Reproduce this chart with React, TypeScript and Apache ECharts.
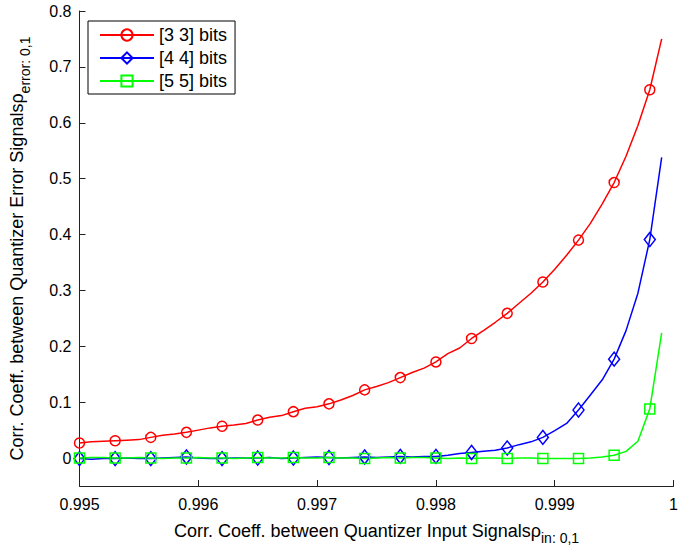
import React, { useEffect, useRef } from "react";
import * as echarts from "echarts";

const xValues: number[] = [
  0.995, 0.9951, 0.9952, 0.9953, 0.9954, 0.9955, 0.9956, 0.9957, 0.9958, 0.9959,
  0.996, 0.9961, 0.9962, 0.9963, 0.9964, 0.9965, 0.9966, 0.9967, 0.9968, 0.9969,
  0.997, 0.9971, 0.9972, 0.9973, 0.9974, 0.9975, 0.9976, 0.9977, 0.9978, 0.9979,
  0.998, 0.9981, 0.9982, 0.9983, 0.9984, 0.9985, 0.9986, 0.9987, 0.9988, 0.9989,
  0.999, 0.9991, 0.9992, 0.9993, 0.9994, 0.9995, 0.9996, 0.9997, 0.9998, 0.9999,
];

const bits33: number[] = [
  0.027, 0.029, 0.030, 0.031, 0.032, 0.033, 0.037, 0.041, 0.043, 0.046,
  0.050, 0.054, 0.057, 0.059, 0.062, 0.068, 0.073, 0.076, 0.083, 0.089,
  0.092, 0.097, 0.104, 0.112, 0.122, 0.128, 0.135, 0.144, 0.153, 0.161,
  0.172, 0.187, 0.197, 0.214, 0.228, 0.243, 0.259, 0.277, 0.295, 0.315,
  0.338, 0.363, 0.390, 0.420, 0.455, 0.493, 0.540, 0.595, 0.659, 0.750,
];

const bits44: number[] = [
  -0.001, -0.002, -0.001, -0.001, 0.000, -0.001, -0.001, 0.000, 0.001, 0.002,
  0.000, -0.001, -0.001, 0.000, 0.000, 0.000, 0.001, -0.001, 0.000, 0.001,
  0.002, 0.001, 0.000, 0.001, 0.002, 0.001, 0.002, 0.003, 0.002, 0.003,
  0.003, 0.005, 0.008, 0.010, 0.012, 0.014, 0.018, 0.024, 0.029, 0.037,
  0.049, 0.062, 0.086, 0.113, 0.140, 0.177, 0.228, 0.295, 0.391, 0.538,
];

const bits55: number[] = [
  0.000, 0.001, 0.001, 0.000, 0.000, 0.001, 0.000, -0.001, 0.000, 0.000,
  0.001, 0.000, 0.000, -0.001, 0.000, 0.001, 0.000, 0.000, 0.001, 0.000,
  0.000, 0.001, 0.000, 0.000, -0.001, 0.000, 0.001, 0.000, 0.001, 0.001,
  0.000, -0.001, 0.000, -0.001, 0.000, 0.000, -0.001, 0.000, 0.000, -0.001,
  -0.001, -0.001, -0.001, 0.000, 0.002, 0.005, 0.012, 0.030, 0.088, 0.224,
];

const seriesNames: string[] = ["[3 3] bits", "[4 4] bits", "[5 5] bits"];
const xTickValues: number[] = [0.995, 0.996, 0.997, 0.998, 0.999, 1];
const yTickValues: number[] = [0, 0.1, 0.2, 0.3, 0.4, 0.5, 0.6, 0.7, 0.8];

const FONT = "'Liberation Sans', Arial, Helvetica, sans-serif";

function buildData(ys: number[]) {
  return xValues.map((x, i) =>
    i % 3 === 0 ? { value: [x, ys[i]] } : { value: [x, ys[i]], symbol: "none" }
  );
}

export default function App() {
  const ref = useRef<HTMLDivElement>(null);

  useEffect(() => {
    if (!ref.current) return;
    const chart = echarts.init(ref.current, undefined, { renderer: "svg" });

    const mk = (name: string, ys: number[], color: string, symbol: string, size: any) => ({
      name,
      type: "line",
      data: buildData(ys),
      symbol,
      symbolSize: size,
      showAllSymbol: true,
      lineStyle: { color, width: 1.5 },
      itemStyle: { color: "rgba(255,255,255,0)", borderColor: color, borderWidth: 1.5 },
      emphasis: { disabled: true },
      z: 2,
    });

    const nameRich = {
      m: { fontSize: 18, fontFamily: FONT, color: "#000", lineHeight: 20 },
      s: { fontSize: 14, fontFamily: FONT, color: "#000", padding: [15, 0, 0, 0] },
    };

    chart.setOption({
      animation: false,
      backgroundColor: "#ffffff",
      textStyle: { fontFamily: FONT },
      grid: { left: 79, right: 1, top: 11, bottom: 60, containLabel: false },
      legend: {
        left: 88,
        top: 21,
        orient: "vertical",
        data: seriesNames,
        backgroundColor: "#ffffff",
        borderColor: "#000000",
        borderWidth: 1,
        padding: [5, 8, 4, 11],
        itemWidth: 54,
        itemHeight: 14,
        itemGap: 5,
        textStyle: { fontSize: 18, lineHeight: 18, color: "#000", fontFamily: FONT },
        selectedMode: false,
      },
      xAxis: {
        type: "value",
        min: 0.995,
        max: 1,
        interval: 0.001,
        name: "{m|Corr. Coeff. between Quantizer Input Signalsρ}{s|in: 0,1}",
        nameLocation: "middle",
        nameGap: 30,
        nameTextStyle: { color: "#000", rich: nameRich },
        axisLine: { show: true, onZero: false, lineStyle: { color: "#222", width: 1 } },
        axisTick: { show: true, inside: true, length: 6, lineStyle: { color: "#222" }, customValues: xTickValues },
        axisLabel: {
          color: "#000",
          fontSize: 16,
          margin: 10,
          customValues: xTickValues,
          formatter: (v: number) => (Math.abs(v - 1) < 1e-9 ? "1" : v.toFixed(3)),
        },
        splitLine: { show: false },
      },
      yAxis: {
        type: "value",
        min: -0.05,
        max: 0.8,
        name: "{m|Corr. Coeff. between Quantizer Error Signalsρ}{s|error: 0,1}",
        nameLocation: "middle",
        nameGap: 48,
        nameTextStyle: { color: "#000", rich: nameRich },
        axisLine: { show: true, onZero: false, lineStyle: { color: "#222", width: 1 } },
        axisTick: { show: true, inside: true, length: 6, lineStyle: { color: "#222" }, customValues: yTickValues },
        axisLabel: {
          color: "#000",
          fontSize: 16,
          margin: 8,
          customValues: yTickValues,
          formatter: (v: number) => (Math.abs(v) < 1e-9 ? "0" : v.toFixed(1)),
        },
        splitLine: { show: false },
      },
      series: [
        mk(seriesNames[0], bits33, "#ff0000", "circle", 10),
        mk(seriesNames[1], bits44, "#0000ff", "diamond", [11, 14]),
        mk(seriesNames[2], bits55, "#00ff00", "rect", 10),
      ],
    });

    return () => chart.dispose();
  }, []);

  return <div ref={ref} style={{ width: 681, height: 550, position: "absolute", left: 0, top: 0 }} />;
}
